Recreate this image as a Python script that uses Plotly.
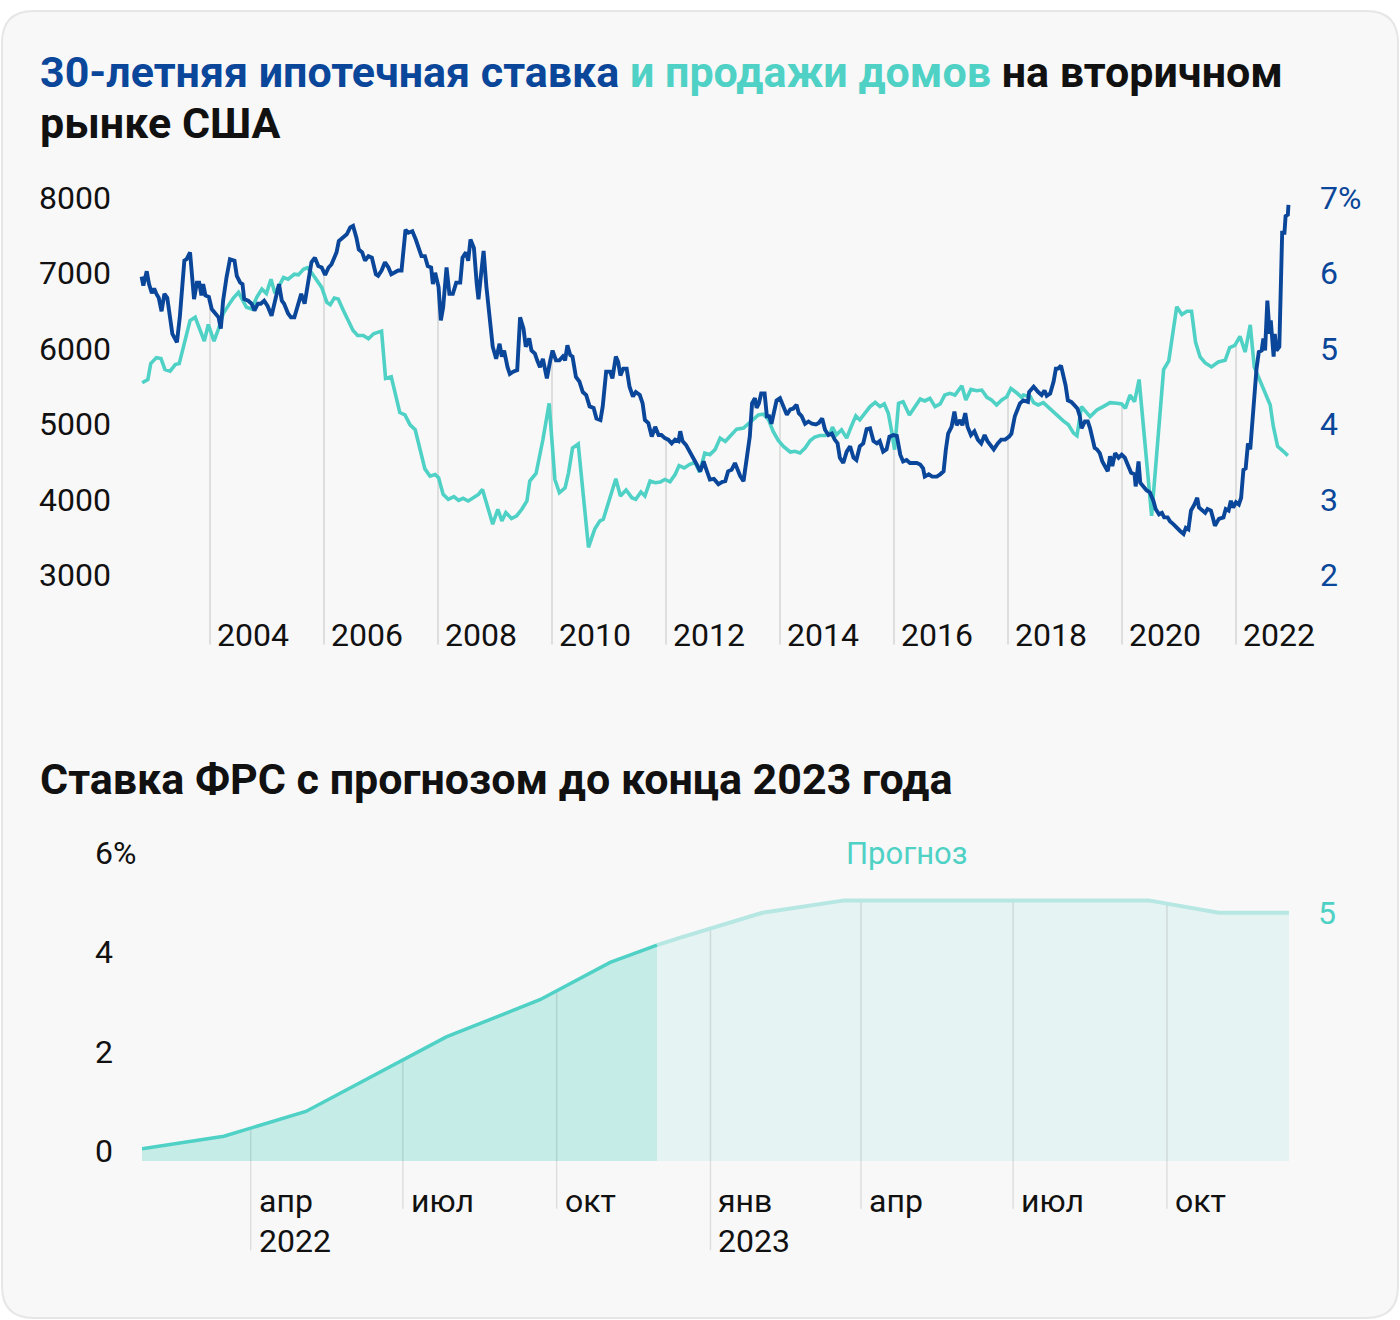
import numpy as np
import pandas as pd
import plotly.graph_objects as go

# ---------------- DATA: 30-year mortgage rate (%, decimal year) ----------------
mortgage_rate = [
    (2002.80, 6.10), (2002.83, 5.98), (2002.89, 6.17), (2002.93, 6.00), (2002.98, 5.88),
    (2003.02, 5.94), (2003.06, 5.87), (2003.10, 5.82), (2003.15, 5.64), (2003.20, 5.87),
    (2003.25, 5.82), (2003.30, 5.52), (2003.34, 5.34), (2003.42, 5.23), (2003.47, 5.56),
    (2003.55, 6.31), (2003.59, 6.33), (2003.65, 6.42), (2003.69, 6.00), (2003.72, 5.80),
    (2003.77, 6.02), (2003.81, 6.02), (2003.85, 5.85), (2003.88, 6.00), (2003.92, 5.85),
    (2003.98, 5.83), (2004.03, 5.67), (2004.09, 5.61), (2004.15, 5.56), (2004.19, 5.41),
    (2004.23, 5.78), (2004.29, 6.09), (2004.35, 6.33), (2004.43, 6.31), (2004.47, 6.11),
    (2004.53, 6.02), (2004.57, 6.00), (2004.60, 5.80), (2004.67, 5.78), (2004.73, 5.74),
    (2004.78, 5.65), (2004.84, 5.74), (2004.89, 5.74), (2004.95, 5.78), (2005.01, 5.71),
    (2005.08, 5.58), (2005.14, 5.76), (2005.21, 6.00), (2005.26, 5.78), (2005.30, 5.74),
    (2005.37, 5.61), (2005.42, 5.56), (2005.48, 5.56), (2005.54, 5.71), (2005.60, 5.87),
    (2005.66, 5.74), (2005.71, 5.96), (2005.78, 6.29), (2005.84, 6.35), (2005.90, 6.24),
    (2005.96, 6.22), (2006.02, 6.12), (2006.08, 6.22), (2006.13, 6.26), (2006.18, 6.35),
    (2006.22, 6.42), (2006.26, 6.57), (2006.32, 6.61), (2006.40, 6.66), (2006.46, 6.75),
    (2006.51, 6.77), (2006.57, 6.61), (2006.61, 6.46), (2006.67, 6.42), (2006.72, 6.31),
    (2006.78, 6.37), (2006.84, 6.35), (2006.91, 6.13), (2006.95, 6.11), (2007.01, 6.18),
    (2007.07, 6.29), (2007.13, 6.22), (2007.18, 6.13), (2007.23, 6.15), (2007.30, 6.18),
    (2007.36, 6.18), (2007.43, 6.72), (2007.48, 6.68), (2007.55, 6.70), (2007.61, 6.59),
    (2007.67, 6.44), (2007.71, 6.37), (2007.77, 6.37), (2007.82, 6.24), (2007.88, 6.22),
    (2007.91, 6.00), (2007.95, 6.15), (2008.01, 5.96), (2008.05, 5.52), (2008.09, 5.69),
    (2008.15, 6.22), (2008.20, 5.87), (2008.26, 5.87), (2008.32, 6.02), (2008.39, 6.02),
    (2008.43, 6.35), (2008.49, 6.42), (2008.53, 6.31), (2008.57, 6.59), (2008.63, 6.48),
    (2008.68, 6.00), (2008.71, 5.80), (2008.75, 6.09), (2008.80, 6.44), (2008.85, 5.96),
    (2008.90, 5.56), (2008.96, 5.17), (2009.02, 5.01), (2009.08, 5.21), (2009.12, 5.04),
    (2009.16, 5.12), (2009.22, 4.90), (2009.26, 4.81), (2009.32, 4.84), (2009.39, 4.86),
    (2009.44, 5.56), (2009.50, 5.41), (2009.54, 5.17), (2009.60, 5.28), (2009.64, 5.12),
    (2009.70, 5.08), (2009.74, 4.99), (2009.79, 4.90), (2009.84, 5.01), (2009.91, 4.75),
    (2009.97, 4.99), (2010.01, 5.12), (2010.07, 4.99), (2010.13, 4.99), (2010.19, 5.04),
    (2010.23, 4.99), (2010.27, 5.19), (2010.32, 5.06), (2010.36, 5.04), (2010.42, 4.77),
    (2010.48, 4.71), (2010.54, 4.57), (2010.60, 4.53), (2010.66, 4.38), (2010.73, 4.36),
    (2010.78, 4.22), (2010.85, 4.20), (2010.89, 4.38), (2010.95, 4.84), (2011.02, 4.84),
    (2011.06, 4.75), (2011.12, 5.04), (2011.16, 4.97), (2011.20, 4.79), (2011.25, 4.88),
    (2011.31, 4.88), (2011.36, 4.64), (2011.42, 4.51), (2011.47, 4.57), (2011.54, 4.53),
    (2011.59, 4.42), (2011.63, 4.20), (2011.69, 4.16), (2011.75, 3.98), (2011.81, 4.11),
    (2011.87, 4.00), (2011.92, 4.00), (2011.98, 3.96), (2012.04, 3.94), (2012.10, 3.89),
    (2012.16, 3.94), (2012.22, 3.92), (2012.25, 4.05), (2012.29, 3.92), (2012.35, 3.87),
    (2012.42, 3.78), (2012.48, 3.70), (2012.54, 3.61), (2012.60, 3.52), (2012.66, 3.65),
    (2012.71, 3.54), (2012.77, 3.41), (2012.84, 3.42), (2012.92, 3.35), (2012.99, 3.38),
    (2013.04, 3.39), (2013.09, 3.52), (2013.15, 3.54), (2013.21, 3.63), (2013.26, 3.54),
    (2013.30, 3.46), (2013.36, 3.39), (2013.42, 3.67), (2013.47, 3.98), (2013.51, 4.42),
    (2013.56, 4.49), (2013.59, 4.36), (2013.63, 4.42), (2013.67, 4.55), (2013.73, 4.55),
    (2013.77, 4.25), (2013.81, 4.25), (2013.85, 4.15), (2013.90, 4.33), (2013.94, 4.46),
    (2014.00, 4.49), (2014.06, 4.38), (2014.12, 4.27), (2014.18, 4.34), (2014.23, 4.35),
    (2014.29, 4.40), (2014.33, 4.29), (2014.38, 4.25), (2014.44, 4.15), (2014.50, 4.18),
    (2014.56, 4.15), (2014.63, 4.14), (2014.68, 4.16), (2014.74, 4.22), (2014.79, 4.07),
    (2014.85, 4.00), (2014.91, 4.02), (2014.96, 3.94), (2015.01, 3.89), (2015.05, 3.70),
    (2015.11, 3.63), (2015.17, 3.78), (2015.23, 3.85), (2015.29, 3.70), (2015.34, 3.67),
    (2015.40, 3.85), (2015.46, 3.89), (2015.52, 4.08), (2015.58, 4.09), (2015.64, 3.92),
    (2015.70, 3.89), (2015.75, 3.92), (2015.81, 3.78), (2015.87, 3.81), (2015.92, 3.98),
    (2015.99, 4.00), (2016.05, 3.99), (2016.11, 3.74), (2016.16, 3.65), (2016.22, 3.67),
    (2016.28, 3.63), (2016.34, 3.63), (2016.40, 3.63), (2016.46, 3.61), (2016.51, 3.56),
    (2016.54, 3.45), (2016.61, 3.48), (2016.67, 3.45), (2016.75, 3.45), (2016.81, 3.48),
    (2016.87, 3.52), (2016.91, 3.81), (2016.95, 4.02), (2017.01, 4.11), (2017.06, 4.31),
    (2017.10, 4.13), (2017.16, 4.20), (2017.20, 4.13), (2017.25, 4.29), (2017.29, 4.11),
    (2017.35, 4.00), (2017.41, 4.05), (2017.47, 3.94), (2017.53, 3.89), (2017.59, 4.00),
    (2017.64, 3.92), (2017.70, 3.87), (2017.75, 3.81), (2017.82, 3.89), (2017.88, 3.94),
    (2017.95, 3.94), (2018.02, 3.98), (2018.06, 4.02), (2018.12, 4.25), (2018.21, 4.42),
    (2018.27, 4.46), (2018.35, 4.44), (2018.37, 4.57), (2018.45, 4.64), (2018.49, 4.60),
    (2018.53, 4.57), (2018.59, 4.53), (2018.64, 4.59), (2018.68, 4.52), (2018.74, 4.55),
    (2018.80, 4.71), (2018.84, 4.88), (2018.88, 4.88), (2018.93, 4.92), (2018.97, 4.79),
    (2019.01, 4.66), (2019.05, 4.46), (2019.11, 4.44), (2019.16, 4.40), (2019.22, 4.35),
    (2019.26, 4.25), (2019.29, 4.09), (2019.35, 4.18), (2019.40, 4.18), (2019.44, 4.09),
    (2019.48, 3.98), (2019.52, 3.83), (2019.56, 3.81), (2019.61, 3.76), (2019.655, 3.65),
    (2019.70, 3.59), (2019.75, 3.52), (2019.79, 3.72), (2019.83, 3.59), (2019.88, 3.76),
    (2019.94, 3.70), (2019.995, 3.74), (2020.05, 3.70), (2020.11, 3.59), (2020.16, 3.50),
    (2020.22, 3.48), (2020.24, 3.32), (2020.29, 3.65), (2020.32, 3.37), (2020.375, 3.32),
    (2020.43, 3.27), (2020.49, 3.24), (2020.55, 3.13), (2020.59, 3.02), (2020.65, 2.95),
    (2020.70, 2.97), (2020.74, 2.91), (2020.80, 2.91), (2020.84, 2.86), (2020.90, 2.82),
    (2020.96, 2.77), (2021.02, 2.73), (2021.08, 2.69), (2021.12, 2.77), (2021.165, 2.75),
    (2021.21, 3.00), (2021.27, 3.08), (2021.32, 3.17), (2021.35, 3.04), (2021.40, 3.00),
    (2021.46, 2.97), (2021.50, 3.02), (2021.56, 3.00), (2021.60, 2.89), (2021.63, 2.80),
    (2021.70, 2.89), (2021.78, 2.91), (2021.82, 3.02), (2021.87, 3.00), (2021.91, 3.13),
    (2021.95, 3.04), (2022.00, 3.11), (2022.05, 3.08), (2022.09, 3.17), (2022.13, 3.54),
    (2022.17, 3.56), (2022.21, 3.89), (2022.25, 3.81), (2022.29, 4.25), (2022.32, 4.55),
    (2022.36, 4.88), (2022.40, 5.10), (2022.45, 5.12), (2022.48, 5.28), (2022.51, 5.12),
    (2022.55, 5.78), (2022.59, 5.34), (2022.61, 5.52), (2022.66, 5.04), (2022.68, 5.34),
    (2022.71, 5.12), (2022.76, 5.17), (2022.79, 6.04), (2022.81, 6.68), (2022.85, 6.68),
    (2022.87, 6.90), (2022.91, 6.92), (2022.92, 7.05),
]

# ---------------- DATA: existing home sales (thousands, SAAR) ----------------
home_sales = [
    (2002.81, 5693), (2002.91, 5736), (2002.96, 5947), (2003.06, 6026), (2003.14, 6013),
    (2003.21, 5868), (2003.30, 5846), (2003.39, 5934), (2003.46, 5947), (2003.56, 6232),
    (2003.65, 6517), (2003.74, 6561), (2003.82, 6386), (2003.90, 6245), (2003.97, 6465),
    (2004.07, 6245), (2004.15, 6408), (2004.23, 6605), (2004.32, 6715), (2004.41, 6815),
    (2004.50, 6890), (2004.57, 6780), (2004.64, 6693), (2004.73, 6671), (2004.82, 6824),
    (2004.91, 6934), (2004.99, 6877), (2005.07, 7065), (2005.14, 6877), (2005.29, 7087),
    (2005.37, 7066), (2005.48, 7131), (2005.55, 7122), (2005.64, 7197), (2005.71, 7219),
    (2005.78, 7153), (2005.87, 7044), (2005.96, 6956), (2006.05, 6758), (2006.11, 6728),
    (2006.18, 6815), (2006.25, 6802), (2006.34, 6649), (2006.43, 6517), (2006.51, 6386),
    (2006.59, 6320), (2006.69, 6320), (2006.78, 6276), (2006.87, 6342), (2007.01, 6377),
    (2007.08, 5750), (2007.18, 5772), (2007.25, 5552), (2007.33, 5298), (2007.42, 5267),
    (2007.51, 5136), (2007.60, 5070), (2007.68, 4807), (2007.77, 4552), (2007.86, 4456),
    (2007.95, 4478), (2008.01, 4434), (2008.09, 4214), (2008.18, 4149), (2008.28, 4184),
    (2008.36, 4136), (2008.44, 4162), (2008.53, 4127), (2008.62, 4171), (2008.71, 4214),
    (2008.78, 4280), (2008.87, 4039), (2008.96, 3820), (2009.05, 4017), (2009.12, 3863),
    (2009.19, 3973), (2009.29, 3894), (2009.38, 3929), (2009.47, 4017), (2009.56, 4127),
    (2009.61, 4390), (2009.72, 4491), (2009.84, 4938), (2009.95, 5421), (2010.05, 4412),
    (2010.13, 4236), (2010.23, 4302), (2010.29, 4500), (2010.36, 4829), (2010.46, 4881),
    (2010.55, 4193), (2010.64, 3513), (2010.75, 3754), (2010.84, 3863), (2010.90, 3885),
    (2011.02, 4171), (2011.12, 4421), (2011.20, 4193), (2011.30, 4272), (2011.40, 4171),
    (2011.47, 4149), (2011.56, 4245), (2011.63, 4193), (2011.72, 4390), (2011.81, 4368),
    (2011.90, 4377), (2011.98, 4412), (2012.07, 4381), (2012.16, 4478), (2012.23, 4596),
    (2012.32, 4565), (2012.41, 4609), (2012.51, 4640), (2012.59, 4508), (2012.68, 4763),
    (2012.77, 4741), (2012.86, 4807), (2012.95, 4960), (2013.04, 4916), (2013.12, 4982),
    (2013.24, 5079), (2013.36, 5092), (2013.44, 5149), (2013.53, 5201), (2013.62, 5267),
    (2013.71, 5276), (2013.80, 5201), (2013.88, 5048), (2013.97, 4929), (2014.06, 4850),
    (2014.18, 4776), (2014.26, 4785), (2014.35, 4763), (2014.44, 4829), (2014.53, 4929),
    (2014.61, 4973), (2014.70, 4995), (2014.79, 4995), (2014.88, 5026), (2014.92, 5105),
    (2014.99, 5004), (2015.08, 5070), (2015.17, 4960), (2015.25, 5114), (2015.33, 5254),
    (2015.40, 5201), (2015.49, 5289), (2015.58, 5377), (2015.67, 5434), (2015.755, 5377),
    (2015.83, 5412), (2015.90, 5289), (2015.96, 5048), (2016.01, 4807), (2016.08, 5421),
    (2016.16, 5443), (2016.27, 5267), (2016.37, 5377), (2016.46, 5478), (2016.54, 5452),
    (2016.63, 5487), (2016.72, 5377), (2016.81, 5412), (2016.89, 5530), (2016.98, 5552),
    (2017.07, 5530), (2017.19, 5653), (2017.26, 5465), (2017.35, 5605), (2017.45, 5588),
    (2017.54, 5596), (2017.63, 5500), (2017.71, 5465), (2017.80, 5399), (2017.89, 5465),
    (2017.98, 5509), (2018.05, 5618), (2018.15, 5561), (2018.24, 5500), (2018.27, 5530),
    (2018.39, 5509), (2018.45, 5429), (2018.53, 5399), (2018.62, 5429), (2018.71, 5364),
    (2018.80, 5302), (2018.88, 5245), (2018.97, 5188), (2019.06, 5136), (2019.15, 5026),
    (2019.21, 4991), (2019.29, 5377), (2019.44, 5245), (2019.56, 5333), (2019.67, 5377),
    (2019.79, 5429), (2019.91, 5421), (2019.995, 5412), (2020.06, 5355), (2020.14, 5530),
    (2020.22, 5443), (2020.30, 5736), (2020.52, 3929), (2020.73, 5868), (2020.82, 5982),
    (2020.96, 6701), (2021.05, 6596), (2021.14, 6640), (2021.22, 6640), (2021.29, 6232),
    (2021.37, 6035), (2021.46, 5956), (2021.57, 5903), (2021.69, 5969), (2021.81, 5991),
    (2021.89, 6158), (2021.98, 6188), (2022.07, 6307), (2022.16, 6100), (2022.25, 6460),
    (2022.32, 5903), (2022.42, 5728), (2022.51, 5552), (2022.60, 5399), (2022.655, 5114),
    (2022.73, 4850), (2022.83, 4785), (2022.91, 4728),
]

year_ticks = [2004, 2006, 2008, 2010, 2012, 2014, 2016, 2018, 2020, 2022]
year_ticklabels = ["2004", "2006", "2008", "2010", "2012", "2014", "2016", "2018", "2020", "2022"]
sales_ticks = [3000, 4000, 5000, 6000, 7000, 8000]
sales_ticklabels = ["3000", "4000", "5000", "6000", "7000", "8000"]
rate_ticks = [2, 3, 4, 5, 6, 7]
rate_ticklabels = ["2", "3", "4", "5", "6", "7%"]

# ---------------- DATA: Fed funds rate (upper bound, %) ----------------
fed_dates = ["2022-01-26", "2022-03-16", "2022-05-04", "2022-06-15", "2022-07-27",
             "2022-09-21", "2022-11-02", "2022-11-30"]
fed_values = [0.25, 0.5, 1.0, 1.75, 2.5, 3.25, 4.0, 4.35]
fed_forecast_dates = ["2022-11-30", "2022-12-14", "2023-02-01", "2023-03-22", "2023-05-03",
                      "2023-06-14", "2023-07-26", "2023-09-20", "2023-11-01", "2023-12-13"]
fed_forecast_values = [4.35, 4.5, 5.0, 5.25, 5.25, 5.25, 5.25, 5.25, 5.0, 5.0]
fed_ticks = [0, 2, 4, 6]
fed_ticklabels = ["0", "2", "4", "6%"]
quarter_ticks = ["2022-04-01", "2022-07-01", "2022-10-01", "2023-01-01",
                 "2023-04-01", "2023-07-01", "2023-10-01"]
quarter_month_labels = ["апр", "июл", "окт", "янв", "апр", "июл", "окт"]
quarter_year_labels = ["2022", "", "", "2023", "", "", ""]

# ---------------- STYLE ----------------
W, H = 1400, 1320
FONT = "Roboto"
BLUE = "#0a4699"
TEAL = "#4fd1c5"
TEAL_FILL = "#c6ece8"
FC_LINE = "#b6e7e3"
FC_FILL = "#e5f3f2"
GRID = "rgba(0,0,0,0.10)"
TXT = "#111111"
CARD_BG = "#f8f8f8"
CARD_BORDER = "#e6e6e6"
TICK_SIZE = 32
TITLE_SIZE = 43


def px_x(p):
    return p / W


def px_y(p):
    return 1 - p / H


rate_t = np.array([p[0] for p in mortgage_rate])
rate_v = np.array([p[1] for p in mortgage_rate])
sales_t = np.array([p[0] for p in home_sales])
sales_v = np.array([p[1] for p in home_sales])

# axis ranges (sales axis and rate axis aligned: sales = (rate + 1) * 1000)
SALES_MIN, SALES_MAX = 2224, 8276
RATE_MIN, RATE_MAX = SALES_MIN / 1000 - 1, SALES_MAX / 1000 - 1

fig = go.Figure()

# --- top chart: year gridlines (from bottom up to upper line) ---
gx, gy = [], []
for yr in year_ticks:
    top = max(np.interp(yr, sales_t, sales_v), (np.interp(yr, rate_t, rate_v) + 1) * 1000)
    gx += [yr, yr, None]
    gy += [SALES_MIN, top, None]
fig.add_trace(go.Scatter(x=gx, y=gy, mode="lines", line=dict(color=GRID, width=2),
                         hoverinfo="skip", xaxis="x", yaxis="y"))

fig.add_trace(go.Scatter(x=sales_t, y=sales_v, mode="lines",
                         line=dict(color=TEAL, width=3.6), xaxis="x", yaxis="y",
                         name="Продажи домов"))
fig.add_trace(go.Scatter(x=rate_t, y=rate_v, mode="lines",
                         line=dict(color=BLUE, width=3.9), xaxis="x", yaxis="y2",
                         name="Ставка"))

# --- bottom chart ---
fig.add_trace(go.Scatter(x=fed_dates, y=fed_values, mode="lines", fill="tozeroy",
                         fillcolor=TEAL_FILL, line=dict(width=0), hoverinfo="skip",
                         xaxis="x2", yaxis="y3"))
fig.add_trace(go.Scatter(x=fed_forecast_dates, y=fed_forecast_values, mode="lines",
                         fill="tozeroy", fillcolor=FC_FILL, line=dict(width=0),
                         hoverinfo="skip", xaxis="x2", yaxis="y3"))

all_dates = pd.to_datetime(fed_dates + fed_forecast_dates[1:])
all_vals = np.array(fed_values + fed_forecast_values[1:])
num_all = all_dates.astype("int64").to_numpy().astype(float)
qx, qy = [], []
for d, ylab in zip(quarter_ticks, quarter_year_labels):
    dn = float(pd.Timestamp(d).value)
    top = np.interp(dn, num_all, all_vals)
    bottom = -1.8 if ylab else -0.96
    qx += [d, d, None]
    qy += [bottom, top, None]
fig.add_trace(go.Scatter(x=qx, y=qy, mode="lines", line=dict(color=GRID, width=1.5),
                         hoverinfo="skip", xaxis="x2", yaxis="y3"))

fig.add_trace(go.Scatter(x=fed_forecast_dates, y=fed_forecast_values, mode="lines",
                         line=dict(color=FC_LINE, width=4), xaxis="x2", yaxis="y3",
                         name="Прогноз"))
fig.add_trace(go.Scatter(x=fed_dates, y=fed_values, mode="lines",
                         line=dict(color=TEAL, width=3.5), xaxis="x2", yaxis="y3",
                         name="Ставка ФРС"))

annotations = []
# titles
annotations.append(dict(
    text=(f"<b><span style='color:{BLUE}'>30-летняя ипотечная ставка</span> "
          f"<span style='color:{TEAL}'>и продажи домов</span> на вторичном</b>"),
    x=px_x(38), y=px_y(63), xref="paper", yref="paper", xanchor="left", yanchor="middle",
    showarrow=False, font=dict(family=FONT, size=TITLE_SIZE, color=TXT)))
annotations.append(dict(
    text="<b>рынке США</b>", x=px_x(38), y=px_y(115), xref="paper", yref="paper",
    xanchor="left", yanchor="middle", showarrow=False,
    font=dict(family=FONT, size=TITLE_SIZE, color=TXT)))
annotations.append(dict(
    text="<b>Ставка ФРС с прогнозом до конца 2023 года</b>", x=px_x(38), y=px_y(775),
    xref="paper", yref="paper", xanchor="left", yanchor="middle", showarrow=False,
    font=dict(family=FONT, size=TITLE_SIZE, color=TXT)))

# top chart year labels
for yr, lab in zip(year_ticks, year_ticklabels):
    annotations.append(dict(text=lab, x=yr, y=px_y(630), xref="x", yref="paper",
                            xanchor="left", yanchor="middle", xshift=5, showarrow=False,
                            font=dict(family=FONT, size=TICK_SIZE, color=TXT)))

# bottom chart labels
for d, m, ylab in zip(quarter_ticks, quarter_month_labels, quarter_year_labels):
    annotations.append(dict(text=m, x=d, y=px_y(1200), xref="x2", yref="paper",
                            xanchor="left", yanchor="middle", xshift=6, showarrow=False,
                            font=dict(family=FONT, size=TICK_SIZE, color=TXT)))
    if ylab:
        annotations.append(dict(text=ylab, x=d, y=px_y(1240), xref="x2", yref="paper",
                                xanchor="left", yanchor="middle", xshift=6, showarrow=False,
                                font=dict(family=FONT, size=TICK_SIZE, color=TXT)))
for v, lab in zip(fed_ticks, fed_ticklabels):
    annotations.append(dict(text=lab, x=px_x(93), y=v, xref="paper", yref="y3",
                            xanchor="left", yanchor="middle", yshift=10, showarrow=False,
                            font=dict(family=FONT, size=TICK_SIZE, color=TXT)))
annotations.append(dict(text="Прогноз", x=px_x(907), y=px_y(850), xref="paper", yref="paper",
                        xanchor="center", yanchor="middle", showarrow=False,
                        font=dict(family=FONT, size=TICK_SIZE - 1, color=TEAL)))
annotations.append(dict(text=f"{fed_forecast_values[-1]:.0f}", x=fed_forecast_dates[-1],
                        y=fed_forecast_values[-1], xref="x2", yref="y3", xanchor="left",
                        yanchor="middle", xshift=27, showarrow=False,
                        font=dict(family=FONT, size=TICK_SIZE, color=TEAL)))

# card background with rounded corners
x0, x1 = px_x(2), px_x(1398)
y0, y1 = px_y(1318), px_y(2)
rx, ry = 32 / W, 32 / H
card_path = (f"M {x0 + rx},{y1} L {x1 - rx},{y1} Q {x1},{y1} {x1},{y1 - ry} "
             f"L {x1},{y0 + ry} Q {x1},{y0} {x1 - rx},{y0} L {x0 + rx},{y0} "
             f"Q {x0},{y0} {x0},{y0 + ry} L {x0},{y1 - ry} Q {x0},{y1} {x0 + rx},{y1} Z")

fig.update_layout(
    width=W, height=H,
    margin=dict(l=0, r=0, t=0, b=0),
    paper_bgcolor="white",
    plot_bgcolor="rgba(0,0,0,0)",
    showlegend=False,
    font=dict(family=FONT, color=TXT),
    shapes=[dict(type="path", path=card_path, xref="paper", yref="paper",
                 fillcolor=CARD_BG, line=dict(color=CARD_BORDER, width=2), layer="below")],
    annotations=annotations,
    xaxis=dict(domain=[px_x(135.9), px_x(1293)], range=[2002.70, 2023.00], visible=False,
               anchor="y"),
    yaxis=dict(domain=[px_y(640), px_y(180)], range=[SALES_MIN, SALES_MAX], anchor="x",
               tickvals=sales_ticks, ticktext=sales_ticklabels, showgrid=False,
               zeroline=False, showline=False, ticks="", ticklabelshift=-11,
               ticklabelstandoff=24, tickfont=dict(family=FONT, size=TICK_SIZE, color=TXT)),
    yaxis2=dict(overlaying="y", side="right", anchor="x", range=[RATE_MIN, RATE_MAX],
                tickvals=rate_ticks, ticktext=rate_ticklabels, showgrid=False,
                zeroline=False, showline=False, ticks="", ticklabelshift=-11,
                ticklabelstandoff=26, tickfont=dict(family=FONT, size=TICK_SIZE, color=BLUE)),
    xaxis2=dict(domain=[px_x(142), px_x(1289)], range=["2022-01-26", "2023-12-13"],
                type="date", visible=False, anchor="y3"),
    yaxis3=dict(domain=[px_y(1250), px_y(840)], range=[-1.8, 6.4], visible=False,
                anchor="x2"),
)

fig.write_html(
    "out.html",
    config={"displayModeBar": False},
    post_script="document.body.style.margin='0';document.body.style.padding='0';",
)
